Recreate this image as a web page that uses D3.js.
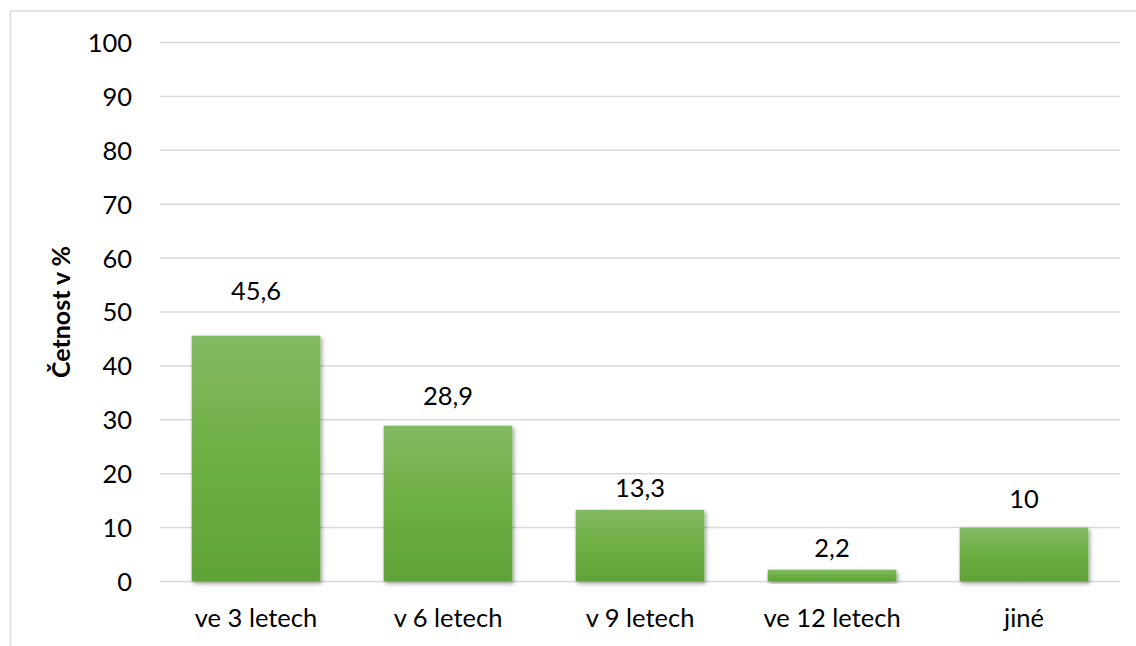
<!DOCTYPE html>
<html>
<head>
<meta charset="utf-8">
<script src="https://cdn.jsdelivr.net/npm/d3@7"></script>
<style>
  html, body { margin: 0; padding: 0; background: #fff; }
  svg { display: block; }
  text { font-family: Lato, "Open Sans", sans-serif; fill: #000; }
</style>
</head>
<body>
<svg id="chart" width="1136" height="646"></svg>
<script>
const categories = ["ve 3 letech", "v 6 letech", "v 9 letech", "ve 12 letech", "jiné"];
const values = [45.6, 28.9, 13.3, 2.2, 10];
const valueLabels = ["45,6", "28,9", "13,3", "2,2", "10"];
const yTicks = [0, 10, 20, 30, 40, 50, 60, 70, 80, 90, 100];
const yTitle = "Četnost v %";
const labelGap = [36, 21, 13, 13, 20];

const svg = d3.select("#chart");
const plot = { left: 160, right: 1120, top: 42.5, bottom: 581.5 };
const FS = 25.5;

// outer border
svg.append("rect")
  .attr("x", 10.5).attr("y", 11)
  .attr("width", 1200).attr("height", 700)
  .attr("fill", "none").attr("stroke", "#d9d9d9").attr("stroke-width", 1.5);

const defs = svg.append("defs");
const grad = defs.append("linearGradient").attr("id", "barGrad")
  .attr("x1", 0).attr("y1", 0).attr("x2", 0).attr("y2", 1);
grad.append("stop").attr("offset", "0%").attr("stop-color", "#83ba64");
grad.append("stop").attr("offset", "50%").attr("stop-color", "#6daf43");
grad.append("stop").attr("offset", "100%").attr("stop-color", "#60a236");

const filt = defs.append("filter").attr("id", "shadow")
  .attr("x", "-20%").attr("y", "-20%").attr("width", "140%").attr("height", "140%");
filt.append("feDropShadow").attr("dx", 1.5).attr("dy", 2).attr("stdDeviation", 2.2)
  .attr("flood-color", "#000").attr("flood-opacity", 0.4);

const x = d3.scaleBand().domain(categories)
  .range([plot.left, plot.right])
  .paddingInner(0.33).paddingOuter(0.165);
const y = d3.scaleLinear().domain([0, 100]).range([plot.bottom, plot.top]);

// gridlines
svg.append("g").selectAll("line").data(yTicks).join("line")
  .attr("x1", plot.left).attr("x2", plot.right)
  .attr("y1", d => y(d)).attr("y2", d => y(d))
  .attr("stroke", "#d9d9d9").attr("stroke-width", 1.5);

// y axis labels
const yAxis = d3.axisLeft(y).tickValues(yTicks).tickSize(0).tickPadding(0).tickFormat(d => String(d));
const gy = svg.append("g").attr("transform", `translate(${plot.left - 28},0)`).call(yAxis);
gy.select(".domain").remove();
gy.selectAll("text").attr("font-size", FS).attr("fill", "#000")
  .style("font-family", "Lato, sans-serif").attr("dy", "0.35em");

// x axis labels
const xAxis = d3.axisBottom(x).tickSize(0).tickPadding(0);
const gx = svg.append("g").attr("transform", `translate(0,${plot.bottom + 27})`).call(xAxis);
gx.select(".domain").remove();
gx.selectAll("text").attr("font-size", FS).attr("fill", "#000")
  .style("font-family", "Lato, sans-serif").attr("dy", "0.72em");

// bars
svg.append("g").selectAll("rect").data(values).join("rect")
  .attr("x", (d, i) => x(categories[i]))
  .attr("width", x.bandwidth())
  .attr("y", d => y(d))
  .attr("height", d => y(0) - y(d))
  .attr("fill", "url(#barGrad)")
  .attr("filter", "url(#shadow)");

// value labels
svg.append("g").selectAll("text").data(values).join("text")
  .attr("x", (d, i) => x(categories[i]) + x.bandwidth() / 2)
  .attr("y", (d, i) => y(d) - labelGap[i])
  .attr("text-anchor", "middle")
  .attr("font-size", FS)
  .text((d, i) => valueLabels[i]);

// y title
svg.append("text")
  .attr("transform", `translate(70,${(plot.top + plot.bottom) / 2}) rotate(-90)`)
  .attr("text-anchor", "middle")
  .attr("font-size", 25)
  .attr("font-weight", "bold")
  .text(yTitle);
</script>
</body>
</html>
